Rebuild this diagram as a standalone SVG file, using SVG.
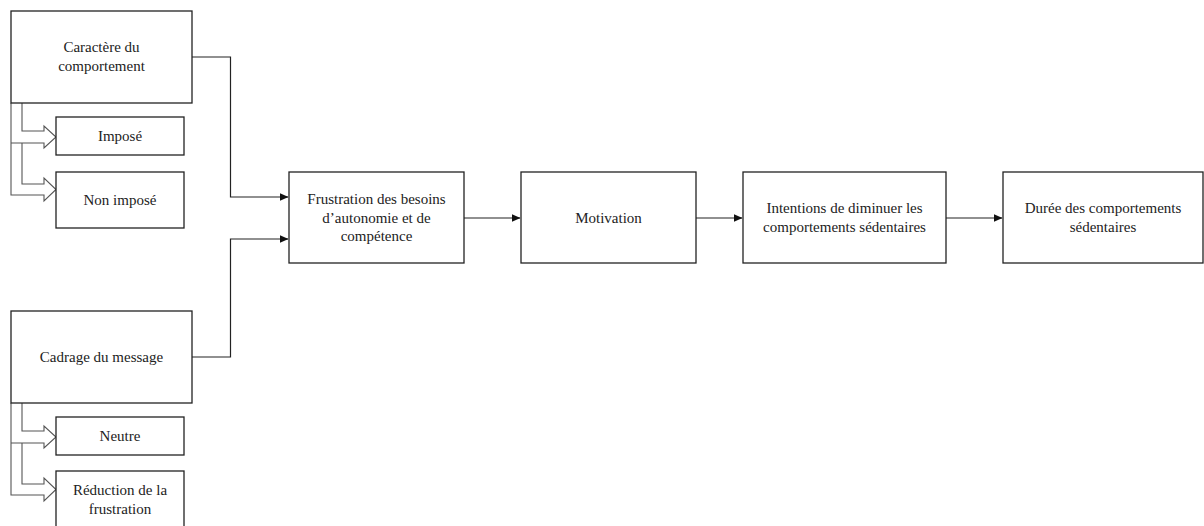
<svg xmlns="http://www.w3.org/2000/svg" width="1204" height="526" viewBox="0 0 1204 526">
<defs>
<style>
.box{fill:#fff;stroke:#222;stroke-width:1.3}
.t{font-family:"Liberation Serif","Times New Roman",serif;font-size:15px;fill:#222;text-anchor:middle}
.c{fill:none;stroke:#222;stroke-width:1.2}
.h{fill:none;stroke:#555;stroke-width:1.1}
</style>
<marker id="ah" markerWidth="9" markerHeight="8" refX="8.5" refY="4" orient="auto" markerUnits="userSpaceOnUse">
<path d="M0,0 L9,4 L0,8 Z" fill="#111"/>
</marker>
</defs>
<rect width="1204" height="526" fill="#fff"/>
<g id="connectors">
<polyline class="c" points="192,57 230.5,57 230.5,197 288,197" marker-end="url(#ah)"/>
<polyline class="c" points="192,357 230.5,357 230.5,239 288,239" marker-end="url(#ah)"/>
<line class="c" x1="464" y1="218" x2="520" y2="218" marker-end="url(#ah)"/>
<line class="c" x1="696" y1="218" x2="742" y2="218" marker-end="url(#ah)"/>
<line class="c" x1="946" y1="218" x2="1002" y2="218" marker-end="url(#ah)"/>
<polyline class="h" points="22,103 22,131 44,131 44,126 56,137 44,148 44,143 11,143"/>
<polyline class="h" points="22,143 22,184 44,184 44,178 56,189.5 44,201 44,195 11,195 11,103"/>
<polyline class="h" points="22,403 22,431 44,431 44,426 56,437 44,448 44,443 11,443"/>
<polyline class="h" points="22,443 22,484 44,484 44,478 56,489.5 44,501 44,495 11,495 11,403"/>
</g>
<g id="caractere">
<rect class="box" x="11" y="11" width="181" height="92"/>
<text class="t" x="101.5" y="52">Caractère du</text>
<text class="t" x="101.5" y="70.5">comportement</text>
</g>
<g id="impose">
<rect class="box" x="56" y="117" width="128" height="38"/>
<text class="t" x="120" y="141">Imposé</text>
</g>
<g id="non-impose">
<rect class="box" x="56" y="172" width="128" height="56"/>
<text class="t" x="120" y="205">Non imposé</text>
</g>
<g id="cadrage">
<rect class="box" x="11" y="311" width="181" height="92"/>
<text class="t" x="101.5" y="362">Cadrage du message</text>
</g>
<g id="neutre">
<rect class="box" x="56" y="417" width="128" height="38"/>
<text class="t" x="120" y="441">Neutre</text>
</g>
<g id="reduction">
<rect class="box" x="56" y="471" width="128" height="62"/>
<text class="t" x="120" y="495">Réduction de la</text>
<text class="t" x="120" y="513.5">frustration</text>
</g>
<g id="frustration">
<rect class="box" x="289" y="172" width="175" height="91"/>
<text class="t" x="376.5" y="204">Frustration des besoins</text>
<text class="t" x="376.5" y="222.5">d’autonomie et de</text>
<text class="t" x="376.5" y="241">compétence</text>
</g>
<g id="motivation">
<rect class="box" x="521" y="172" width="175" height="91"/>
<text class="t" x="608.5" y="223">Motivation</text>
</g>
<g id="intentions">
<rect class="box" x="743" y="172" width="203" height="91"/>
<text class="t" x="844.5" y="213">Intentions de diminuer les</text>
<text class="t" x="844.5" y="231.5">comportements sédentaires</text>
</g>
<g id="duree">
<rect class="box" x="1003" y="172" width="200" height="91"/>
<text class="t" x="1103" y="213">Durée des comportements</text>
<text class="t" x="1103" y="231.5">sédentaires</text>
</g>
</svg>
